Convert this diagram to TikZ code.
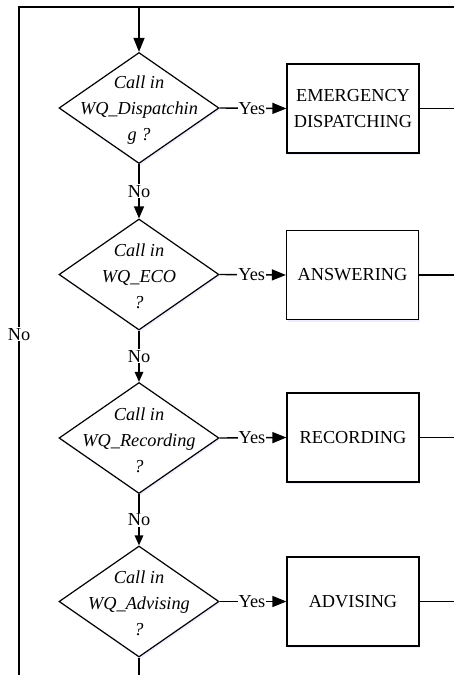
\documentclass[tikz,border=0pt]{standalone}
\usepackage{fontspec}
\setmainfont{Liberation Serif}
\usetikzlibrary{shapes.geometric,arrows.meta,shadows}
\begin{document}
\begin{tikzpicture}[x=1pt,y=-1pt,
  txt/.style={font=\fontsize{18.3}{26}\selectfont},
  wire/.style={line width=1.4pt},
  arr/.style={wire,-{Triangle[length=14pt,width=11pt]}},
  arrsmall/.style={wire,-{Triangle[length=10pt,width=8.5pt]}},
  soft/.style={drop shadow={shadow xshift=1pt,shadow yshift=-2pt,fill=blue!35,opacity=0.18}},
  decision/.style={draw,line width=1.2pt,fill=white,shape=diamond,inner sep=0pt,
    minimum width=160pt,minimum height=111pt,soft},
  dlabel/.style={txt,align=center,font=\fontsize{18.3}{26}\selectfont\itshape},
  action/.style={draw,line width=1.2pt,fill=white,rectangle,minimum width=132pt,
    minimum height=89pt,align=center,txt,inner sep=2pt,soft},
  tag/.style={txt,fill=white,inner sep=1pt}]
\useasboundingbox (0,0) rectangle (454,675);
\fill[white] (0,0) rectangle (454,675);

% decisions
\node[decision] (d1) at (139,108) {};
\node[dlabel] (t1) at (139,110) {Call in\\WQ\_Dispatchin\\g ?};
\node[decision] (d2) at (139,274.5) {};
\node[dlabel] (t2) at (139,276.5) {Call in\\WQ\_ECO\\?};
\node[decision] (d3) at (139,438) {};
\node[dlabel] (t3) at (139,440) {Call in\\WQ\_Recording\\?};
\node[decision] (d4) at (139,601.5) {};
\node[dlabel] (t4) at (139,603.5) {Call in\\WQ\_Advising\\?};

% actions
\node[action] (b1) at (353,108.5) {EMERGENCY\\DISPATCHING};
\node[action] (b2) at (352.5,275) {ANSWERING};
\node[action] (b3) at (353,437.5) {RECORDING};
\node[action] (b4) at (353,601.5) {ADVISING};

% loop frame
\coordinate (tl) at (19,7);
\coordinate (tr) at (454,7);
\coordinate (tm) at (139,7);
\coordinate (bl) at (19,675);
\coordinate (bm) at (139,675);
\draw[wire] (bl) -- node[tag,pos=0.51]{No} (tl) -- (tr);
\draw[arr] (tm) -- (d1.north);
\draw[wire] (d4.south) -- (bm);

% yes branches
\draw[arr] (d1.east) -- node[tag,xshift=-1pt]{Yes} (b1.west);
\draw[arr] (d2.east) -- node[tag,xshift=-1pt]{Yes} (b2.west);
\draw[arr] (d3.east) -- node[tag,xshift=-1pt]{Yes} (b3.west);
\draw[arr] (d4.east) -- node[tag,xshift=-1pt]{Yes} (b4.west);

% no branches
\draw[wire,-{Triangle[length=12pt,width=10pt]}] (d1.south) -- node[tag]{No} (d2.north);
\draw[arrsmall] (d2.south) -- node[tag]{No} (d3.north);
\draw[arrsmall] (d3.south) -- node[tag]{No} (d4.north);

% exits to the right
\coordinate (r1) at (454,108.5);
\coordinate (r2) at (454,275);
\coordinate (r3) at (454,437.5);
\coordinate (r4) at (454,601.5);
\draw[wire] (b1.east) -- (r1);
\draw[wire] (b2.east) -- (r2);
\draw[wire] (b3.east) -- (r3);
\draw[wire] (b4.east) -- (r4);
\end{tikzpicture}
\end{document}
